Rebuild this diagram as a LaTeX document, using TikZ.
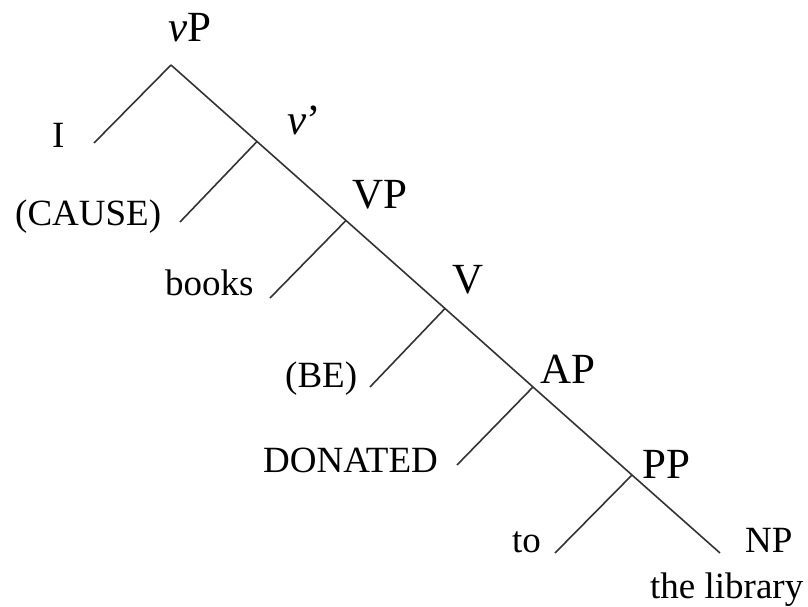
\documentclass[tikz,border=0pt]{standalone}
\usepackage{fontspec}
\setmainfont{Liberation Serif}
\begin{document}
\begin{tikzpicture}[x=1pt,y=-1pt,
  branch/.style={draw=black!80,line width=1.6pt},
  cat/.style={inner sep=0pt,anchor=base west,font=\fontsize{43}{47}\selectfont},
  word/.style={inner sep=0pt,anchor=base west,font=\fontsize{37}{41}\selectfont}]
\useasboundingbox (0,0) rectangle (808,607);
% junctions
\coordinate (j0) at (171,65);
\coordinate (j1) at (257,141.5);
\coordinate (j2) at (346,220.5);
\coordinate (j3) at (445,308.5);
\coordinate (j4) at (533,387);
\coordinate (j5) at (632,475);
\coordinate (jnp) at (720,553);
% left branch ends
\coordinate (eI) at (94,143);
\coordinate (eCause) at (180,222);
\coordinate (eBooks) at (270,298);
\coordinate (eBe) at (370,387);
\coordinate (eDon) at (457,465);
\coordinate (eTo) at (555,553);
% branches
\draw[branch] (j0) -- (j1) -- (j2) -- (j3) -- (j4) -- (j5) -- (jnp);
\draw[branch] (j0) -- (eI);
\draw[branch] (j1) -- (eCause);
\draw[branch] (j2) -- (eBooks);
\draw[branch] (j3) -- (eBe);
\draw[branch] (j4) -- (eDon);
\draw[branch] (j5) -- (eTo);
% category labels
\node[cat] (vP) at (168,42) {\textit{v}P};
\node[cat] (vbar) at (287,135) {\textit{v}’};
\node[cat] (VP) at (352,208) {VP};
\node[cat] (V) at (452,293) {V};
\node[cat] (AP) at (540,383) {AP};
\node[cat] (PP) at (642,478) {PP};
% words
\node[word] (I) at (52,147) {I};
\node[word] (cause) at (15,225) {(CAUSE)};
\node[word] (books) at (165,295) {books};
\node[word] (be) at (285,387) {(BE)};
\node[word] (donated) at (263,472) {DONATED};
\node[word] (to) at (512,552) {to};
\node[word] (NP) at (745,552) {NP};
\node[word] (lib) at (650,598) {the library};
\end{tikzpicture}
\end{document}
